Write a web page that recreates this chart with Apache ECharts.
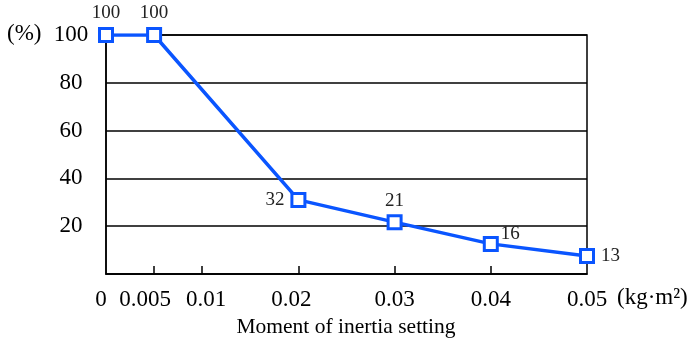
<!DOCTYPE html>
<html>
<head>
<meta charset="utf-8">
<script src="https://cdn.jsdelivr.net/npm/echarts@6/dist/echarts.min.js"></script>
<style>
html,body{margin:0;padding:0;background:#fff;}
#main{width:692px;height:347px;}
</style>
</head>
<body>
<div id="main"></div>
<script>
// 数据
var inertia = [0, 0.005, 0.02, 0.03, 0.04, 0.05];
var ratio = [100, 100, 31, 21.7, 12.6, 7.5];
var pointLabels = ['100', '100', '32', '21', '16', '13'];
var xTickLabels = [0, 0.005, 0.01, 0.02, 0.03, 0.04, 0.05];
var xTicks = [0.005, 0.01, 0.02, 0.03, 0.04];
var yTicks = [20, 40, 60, 80, 100];

// 标签位置微调
var xLabelStyle = ['l10', 'l18', 'r8', 'l14', 'n', 'n', 'n'];
var labelPos = ['top', 'top', 'left', 'top', 'right', 'right'];
var labelOffset = [[0, 2], [0, 2], [0, 0], [0, 2], [-4, -10], [0, 0]];

var blue = '#0a55ff';
var font = '"Liberation Serif", "Times New Roman", serif';

var myChart = echarts.init(document.getElementById('main'));

var seriesData = [];
for (var i = 0; i < inertia.length; i++) {
    seriesData.push({
        value: [inertia[i], ratio[i]],
        label: {position: labelPos[i], offset: labelOffset[i]}
    });
}

var richX = {
    n: {fontFamily: font, fontSize: 23, color: '#000'},
    l10: {fontFamily: font, fontSize: 23, color: '#000', padding: [0, 10, 0, 0]},
    l18: {fontFamily: font, fontSize: 23, color: '#000', padding: [0, 18, 0, 0]},
    l14: {fontFamily: font, fontSize: 23, color: '#000', padding: [0, 14, 0, 0]},
    r8: {fontFamily: font, fontSize: 23, color: '#000', padding: [0, 0, 0, 8]}
};

option = {
    animation: false,
    grid: {
        left: 106, right: 105, top: 35, bottom: 73,
        show: true, borderColor: '#000', borderWidth: 1.5
    },
    xAxis: {
        type: 'value', min: 0, max: 0.05, interval: 0.005,
        axisLine: {show: true, lineStyle: {color: '#000', width: 1.5}},
        axisTick: {show: true, inside: true, length: 8, customValues: xTicks,
            lineStyle: {color: '#000', width: 1.5}},
        axisLabel: {customValues: xTickLabels, margin: 14, color: '#000',
            fontFamily: font, fontSize: 23, rich: richX,
            formatter: function (v) {
                var k = -1;
                for (var j = 0; j < xTickLabels.length; j++) {
                    if (Math.abs(xTickLabels[j] - v) < 1e-9) k = j;
                }
                var s = k < 0 ? 'n' : xLabelStyle[k];
                return '{' + s + '|' + v + '}';
            }},
        splitLine: {show: false}
    },
    yAxis: {
        type: 'value', min: 0, max: 100, interval: 20,
        axisLine: {show: true, lineStyle: {color: '#000', width: 1.5}},
        axisTick: {show: false},
        axisLabel: {customValues: yTicks, margin: 35, align: 'center', color: '#000',
            fontFamily: font, fontSize: 23},
        splitLine: {show: true, lineStyle: {color: '#000', width: 1.5}}
    },
    graphic: [
        {type: 'text', left: 7, top: 22,
            style: {text: '(%)', font: '23px ' + font, fill: '#000'}},
        {type: 'text', left: 617, top: 286,
            style: {text: '(kg·m²)', font: '23px ' + font, fill: '#000'}},
        {type: 'text', left: 'center', top: 316,
            style: {text: 'Moment of inertia setting', font: '21.5px ' + font, fill: '#000'}}
    ],
    series: [{
        type: 'line',
        data: seriesData,
        symbol: 'rect',
        symbolSize: 13,
        lineStyle: {color: blue, width: 3.5},
        itemStyle: {color: '#fff', borderColor: blue, borderWidth: 3},
        label: {
            show: true, distance: 6, color: '#222', fontFamily: font, fontSize: 19,
            formatter: function (p) { return pointLabels[p.dataIndex]; }
        },
        z: 5
    }]
};

myChart.setOption(option);
</script>
</body>
</html>
